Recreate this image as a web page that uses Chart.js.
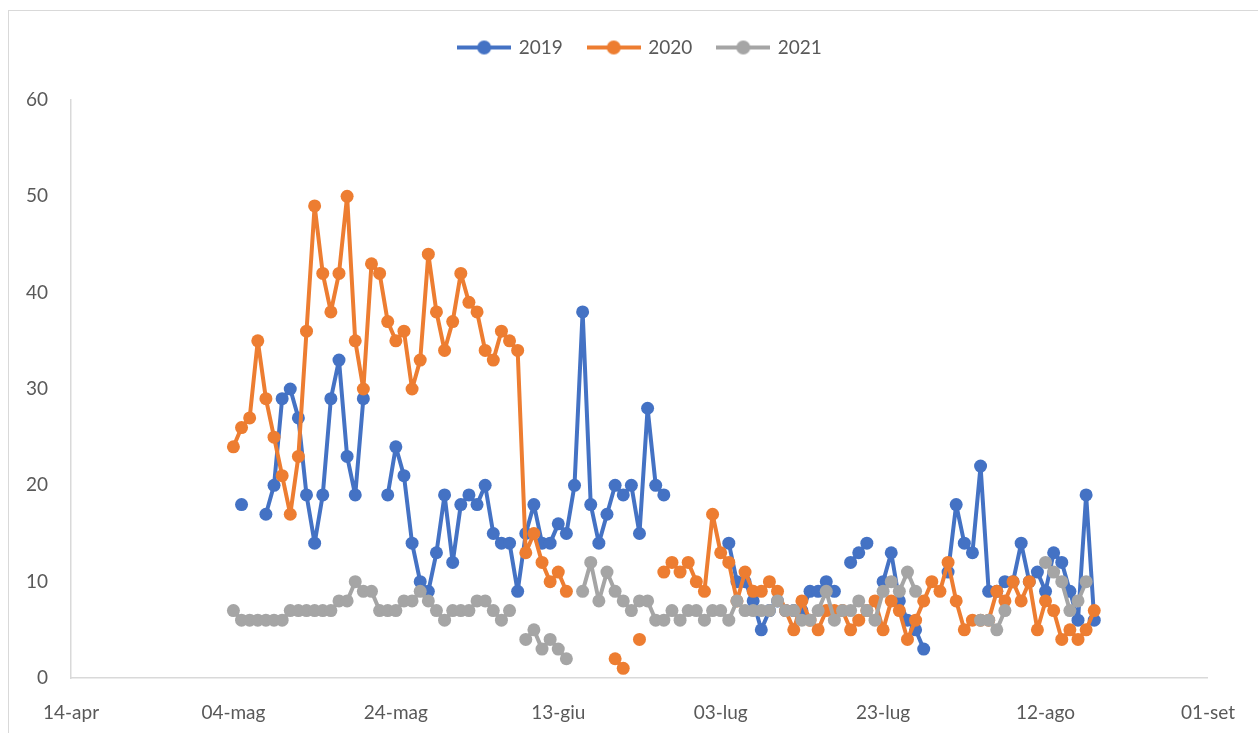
<!DOCTYPE html>
<html>
<head>
<meta charset="utf-8">
<script src="https://cdn.jsdelivr.net/npm/chart.js@4.4.1/dist/chart.umd.min.js"></script>
<style>
  html, body { margin: 0; padding: 0; background: #fff; width: 1258px; height: 733px; overflow: hidden; }
  #frame { position: absolute; left: 8px; top: 10px; width: 1262px; height: 735px; border: 1px solid #d9d9d9; box-sizing: border-box; }
  #wrap { position: absolute; left: 0; top: 0; width: 1258px; height: 733px; }
</style>
</head>
<body>
<div id="frame"></div>
<div id="wrap"><canvas id="chart" width="1258" height="733"></canvas></div>
<script>
// Axis tick labels, one every 20 days starting 14 April
const tickLabels = ['14-apr', '04-mag', '24-mag', '13-giu', '03-lug', '23-lug', '12-ago', '01-set'];
const tickStepDays = 20;
const axisDays = 140;

// Series start on 04-mag (day 20 after 14-apr); one value per day, null = no data
const firstDay = 20;

const series2019 = [
  null, 18, null, null, 17, 20, 29, 30, 27, 19,
  14, 19, 29, 33, 23, 19, 29, null, null, 19,
  24, 21, 14, 10, 9, 13, 19, 12, 18, 19,
  18, 20, 15, 14, 14, 9, 15, 18, 14, 14,
  16, 15, 20, 38, 18, 14, 17, 20, 19, 20,
  15, 28, 20, 19, null, null, null, null, null, null,
  null, 14, 10, 10, 8, 5, 7, 8, 7, 7,
  7, 9, 9, 10, 9, null, 12, 13, 14, null,
  10, 13, 8, 6, 5, 3, null, null, 11, 18,
  14, 13, 22, 9, 9, 10, 10, 14, 10, 11,
  9, 13, 12, 9, 6, 19, 6
];

const series2020 = [
  24, 26, 27, 35, 29, 25, 21, 17, 23, 36,
  49, 42, 38, 42, 50, 35, 30, 43, 42, 37,
  35, 36, 30, 33, 44, 38, 34, 37, 42, 39,
  38, 34, 33, 36, 35, 34, 13, 15, 12, 10,
  11, 9, null, null, null, null, null, 2, 1, null,
  4, null, null, 11, 12, 11, 12, 10, 9, 17,
  13, 12, 8, 11, 9, 9, 10, 9, 7, 5,
  8, 6, 5, 7, 7, 7, 5, 6, 7, 8,
  5, 8, 7, 4, 6, 8, 10, 9, 12, 8,
  5, 6, 6, 6, 9, 8, 10, 8, 10, 5,
  8, 7, 4, 5, 4, 5, 7
];

const series2021 = [
  7, 6, 6, 6, 6, 6, 6, 7, 7, 7,
  7, 7, 7, 8, 8, 10, 9, 9, 7, 7,
  7, 8, 8, 9, 8, 7, 6, 7, 7, 7,
  8, 8, 7, 6, 7, null, 4, 5, 3, 4,
  3, 2, null, 9, 12, 8, 11, 9, 8, 7,
  8, 8, 6, 6, 7, 6, 7, 7, 6, 7,
  7, 6, 8, 7, 7, 7, 7, 8, 7, 7,
  6, 6, 7, 9, 6, 7, 7, 8, 7, 6,
  9, 10, 9, 11, 9, null, null, null, null, null,
  null, null, 6, 6, 5, 7, null, null, null, null,
  12, 11, 10, 7, 8, 10, null
];

const seriesNames = ['2019', '2020', '2021'];
const seriesColors = ['#4472C4', '#ED7D31', '#A5A5A5'];

const FONT = 'Lato, "Liberation Sans", sans-serif';
const TEXT_COLOR = '#595959';
const AXIS_COLOR = '#d9d9d9';

function toPoints(values) {
  return values.map((v, i) => ({ x: firstDay + i, y: v }));
}

// Legend marker: a short line with a round marker in the middle
function legendMarker(color) {
  const c = document.createElement('canvas');
  c.width = 54; c.height = 16;
  const g = c.getContext('2d');
  g.strokeStyle = color;
  g.lineWidth = 4;
  g.beginPath(); g.moveTo(0, 8); g.lineTo(54, 8); g.stroke();
  g.fillStyle = color;
  g.beginPath(); g.arc(27, 8, 7, 0, Math.PI * 2); g.fill();
  return c;
}
const markers = seriesColors.map(legendMarker);

// Fixes the legend block height so the plot area starts at the same place,
// and centres the legend on the whole frame rather than the plot width
const legendPlacement = {
  id: 'legendPlacement',
  beforeInit(chart) {
    const fit = chart.legend.fit;
    chart.legend.fit = function () {
      fit.call(this);
      this.height = 88;
    };
  },
  afterLayout(chart) {
    chart.legend.left += 36;
    chart.legend.right += 36;
  }
};

const allSeries = [series2019, series2020, series2021];

new Chart(document.getElementById('chart'), {
  type: 'line',
  data: {
    datasets: allSeries.map((vals, i) => ({
      label: seriesNames[i],
      data: toPoints(vals),
      // later years are painted over earlier ones
      order: allSeries.length - 1 - i,
      borderColor: seriesColors[i],
      backgroundColor: seriesColors[i],
      borderWidth: 4,
      borderJoinStyle: 'round',
      borderCapStyle: 'round',
      pointRadius: 6.5,
      pointHoverRadius: 6.5,
      pointBorderWidth: 0,
      pointBackgroundColor: seriesColors[i],
      tension: 0,
      spanGaps: false
    }))
  },
  options: {
    responsive: false,
    animation: false,
    events: [],
    layout: { padding: { top: 12, right: 49, left: 0, bottom: 0 } },
    plugins: {
      tooltip: { enabled: false },
      legend: {
        position: 'top',
        align: 'center',
        labels: {
          usePointStyle: true,
          pointStyleWidth: 50,
          padding: 26,
          color: TEXT_COLOR,
          font: { family: FONT, size: 19 },
          sort: (a, b) => a.datasetIndex - b.datasetIndex,
          generateLabels(chart) {
            const items = Chart.defaults.plugins.legend.labels.generateLabels(chart);
            items.forEach(it => { it.pointStyle = markers[it.datasetIndex]; });
            return items;
          }
        }
      }
    },
    scales: {
      x: {
        type: 'linear',
        min: 0,
        max: axisDays,
        afterFit(scale) { scale.height = 55; },
        afterBuildTicks(scale) {
          scale.ticks = tickLabels.map((_, i) => ({ value: i * tickStepDays }));
        },
        ticks: {
          autoSkip: false,
          maxRotation: 0,
          padding: 23,
          color: TEXT_COLOR,
          font: { family: FONT, size: 19 },
          callback(value) { return tickLabels[Math.round(value / tickStepDays)]; }
        },
        grid: { display: false, drawTicks: false },
        border: { display: true, color: AXIS_COLOR, width: 1.5 }
      },
      y: {
        min: 0,
        max: 60,
        afterFit(scale) { scale.width = 71; },
        ticks: {
          stepSize: 10,
          padding: 23,
          color: TEXT_COLOR,
          font: { family: FONT, size: 19 }
        },
        grid: { display: false, drawTicks: false },
        border: { display: true, color: AXIS_COLOR, width: 1.5 }
      }
    }
  },
  plugins: [legendPlacement]
});
</script>
</body>
</html>
